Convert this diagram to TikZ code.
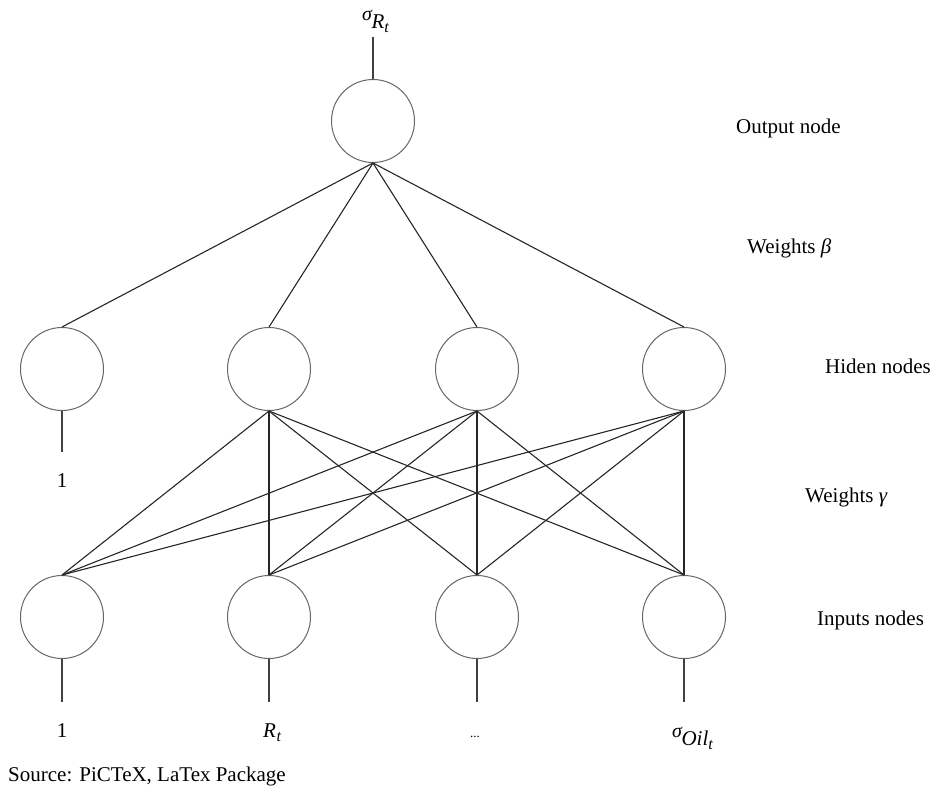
\documentclass[tikz,border=0pt]{standalone}
\usepackage{fontspec}
\setmainfont{Liberation Serif}
\newcommand\mysig[2]{{\fontsize{20}{20}\selectfont\itshape\raisebox{8pt}{σ}}\kern-0.5pt{\fontsize{21}{21}\selectfont\itshape #1}{\fontsize{16}{16}\selectfont\itshape\raisebox{-4.5pt}{t}}}
\begin{document}
\begin{tikzpicture}[x=1pt,y=-1pt,
  neuron/.style={circle,draw=black!60,line width=1pt,minimum size=83pt,inner sep=0pt},
  edge/.style={draw=black!85,line width=1.1pt},
  stub/.style={draw=black!75,line width=1.4pt},
  lbl/.style={font=\fontsize{21}{25}\selectfont,inner sep=0pt}]
\useasboundingbox (0,0) rectangle (933,787);
% nodes
\node[neuron] (o) at (373,121) {};
\foreach \i/\x in {1/62,2/269,3/477,4/684}{
  \node[neuron] (h\i) at (\x,369) {};
  \node[neuron] (i\i) at (\x,617) {};
  \coordinate (s\i) at (\x,702);
  \draw[stub] (i\i.south) -- (s\i);
}
\coordinate (ot) at (373,37);
\coordinate (hs) at (62,452);
\draw[stub] (o.north) -- (ot);
\draw[stub] (h1.south) -- (hs);
% weights beta
\foreach \i in {1,2,3,4} \draw[edge] (o.south) -- (h\i.north);
% weights gamma
\foreach \h in {2,3,4}
  \foreach \j in {1,2,3,4}
    \draw[edge] (h\h.south) -- (i\j.north);
% labels
\node[lbl,anchor=base west] (lo) at (362,28) {\mysig{R}{t}};
\node[lbl,anchor=base] (l1h) at (62,487) {1};
\node[lbl,anchor=base] (l1) at (62,737) {1};
\node[lbl,anchor=base west] (lr) at (263,737) {\itshape R\kern0.5pt{\fontsize{16}{16}\selectfont\raisebox{-4.5pt}{t}}};
\node[lbl,anchor=base] (ld) at (475,737) {\fontsize{13}{13}\selectfont...};
\node[lbl,anchor=base west] (loil) at (672,745) {\mysig{Oil}{t}};
\node[lbl,anchor=base west] (tout) at (736,133) {Output node};
\node[lbl,anchor=base west] (tbeta) at (747,253) {Weights \textit{β}};
\node[lbl,anchor=base west] (thid) at (825,373) {Hiden nodes};
\node[lbl,anchor=base west] (tgam) at (805,502) {Weights \textit{γ}};
\node[lbl,anchor=base west] (tin) at (817,625) {Inputs nodes};
\node[lbl,anchor=base west] (src) at (8,781) {Source: PiCTeX, LaTex Package};
\end{tikzpicture}
\end{document}
